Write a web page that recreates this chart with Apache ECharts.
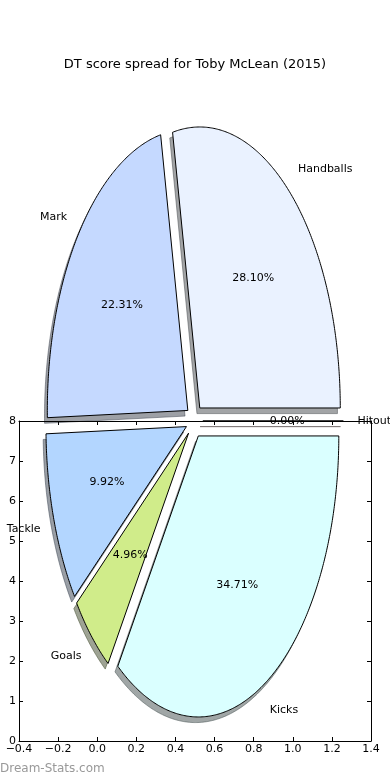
<!DOCTYPE html>
<html><head><meta charset="utf-8">
<script src="https://cdn.jsdelivr.net/npm/echarts/dist/echarts.min.js"></script>
<style>html,body{margin:0;padding:0;background:#fff}#c{width:390px;height:780px}</style>
</head><body><div id="c"></div>
<script>
// ---- data ----
const categories = ['Handballs', 'Mark', 'Tackle', 'Goals', 'Kicks', 'Hitout'];
const shares = [28.10, 22.31, 9.92, 4.96, 34.71, 0.00];
const sliceColors = ['#eaf2ff', '#c5d9ff', '#b3d6ff', '#d0ec8a', '#daffff', '#ffe4e4'];
const xTickLabels = ['\u22120.4', '\u22120.2', '0.0', '0.2', '0.4', '0.6', '0.8', '1.0', '1.2', '1.4'];
const yTickLabels = ['0', '1', '2', '3', '4', '5', '6', '7', '8'];

// ---- pie geometry (in axis data units) ----
const pieCenter = [0.497, 8];
const pieRadius = [0.7185, 7.025];
const explode = 0.06;
const shadowOffset = 0.02;
const labelDistance = 1.1;
const pctDistance = 0.6;
const FONT = '"DejaVu Sans", sans-serif';

const total = shares.reduce((a, b) => a + b, 0);
const starts = [];
let acc = 0;
shares.forEach(v => { starts.push(acc); acc += v / total * 360; });

function shade(hex) {
  const n = parseInt(hex.slice(1), 16);
  const r = Math.round(((n >> 16) & 255) * 0.3), g = Math.round(((n >> 8) & 255) * 0.3), b = Math.round((n & 255) * 0.3);
  return 'rgb(' + r + ',' + g + ',' + b + ')';
}

function geom(i, api) {
  const c = api.coord(pieCenter);
  const s = api.size([pieRadius[0], pieRadius[1]]);
  const rx = s[0], ry = s[1];
  const t1 = starts[i], t2 = starts[i] + shares[i] / total * 360;
  const mid = (t1 + t2) / 2 * Math.PI / 180;
  const ax = c[0] + explode * rx * Math.cos(mid);
  const ay = c[1] - explode * ry * Math.sin(mid);
  const pts = [[ax, ay]];
  const steps = Math.max(1, Math.ceil((t2 - t1) / 0.5));
  for (let k = 0; k <= steps; k++) {
    const t = (t1 + (t2 - t1) * k / steps) * Math.PI / 180;
    pts.push([ax + rx * Math.cos(t), ay - ry * Math.sin(t)]);
  }
  return { pts, ax, ay, rx, ry, mid };
}

const seriesData = categories.map((name, i) => ({ name, value: [pieCenter[0], pieCenter[1], shares[i]] }));

const chart = echarts.init(document.getElementById('c'), null, { renderer: 'canvas' });
const axisCommon = {
  type: 'value', z: 5,
  axisLine: { show: true, onZero: false, lineStyle: { color: '#000', width: 1 } },
  axisTick: { show: true, inside: true, length: 4, lineStyle: { color: '#000', width: 1 } },
  splitLine: { show: false }
};
chart.setOption({
  animation: false,
  backgroundColor: '#fff',
  title: {
    text: 'DT score spread for Toby McLean (2015)', left: 'center', top: 53,
    textStyle: { fontFamily: FONT, fontSize: 13, fontWeight: 'normal', color: '#000' }
  },
  grid: { left: 19, right: 19, top: 421, bottom: 39, containLabel: false },
  xAxis: [
    Object.assign({}, axisCommon, {
      position: 'bottom', min: -0.4, max: 1.4, interval: 0.2,
      axisLabel: { show: true, margin: 3, color: '#000', fontFamily: FONT, fontSize: 11,
        formatter: (v, idx) => xTickLabels[idx] }
    }),
    Object.assign({}, axisCommon, {
      position: 'top', min: -0.4, max: 1.4, interval: 0.2, axisLabel: { show: false }
    })
  ],
  yAxis: [
    Object.assign({}, axisCommon, {
      position: 'left', min: 0, max: 8, interval: 1,
      axisLabel: { show: true, margin: 3, color: '#000', fontFamily: FONT, fontSize: 11,
        formatter: (v, idx) => yTickLabels[idx] }
    }),
    Object.assign({}, axisCommon, {
      position: 'right', min: 0, max: 8, interval: 1, axisLabel: { show: false }
    })
  ],
  graphic: [{
    type: 'text', left: 0, top: 763,
    style: { text: 'Dream-Stats.com', fill: '#999', font: '12px ' + FONT }
  }],
  series: [
    {
      type: 'custom', name: 'shadow', coordinateSystem: 'cartesian2d', xAxisIndex: 0, yAxisIndex: 0,
      clip: false, z: 1, silent: true,
      data: seriesData,
      renderItem: function (params, api) {
        const i = params.dataIndex;
        const g = geom(i, api);
        const dx = -shadowOffset * g.rx, dy = shadowOffset * g.ry;
        const col = shade(sliceColors[i]);
        return {
          type: 'polygon',
          shape: { points: g.pts.map(p => [p[0] + dx, p[1] + dy]) },
          style: { fill: col, stroke: col, lineWidth: 1, opacity: 0.5 }
        };
      }
    },
    {
      type: 'custom', name: 'slices', coordinateSystem: 'cartesian2d', xAxisIndex: 0, yAxisIndex: 0,
      clip: false, z: 2, silent: true,
      data: seriesData,
      renderItem: function (params, api) {
        const i = params.dataIndex;
        const g = geom(i, api);
        const zeroX = api.coord([0, 0])[0];
        const lx = g.ax + labelDistance * g.rx * Math.cos(g.mid);
        const ly = g.ay - labelDistance * g.ry * Math.sin(g.mid);
        const px = g.ax + pctDistance * g.rx * Math.cos(g.mid);
        const py = g.ay - pctDistance * g.ry * Math.sin(g.mid);
        return {
          type: 'group',
          children: [
            {
              type: 'polygon', shape: { points: g.pts },
              style: { fill: sliceColors[i], stroke: '#000', lineWidth: 1, lineJoin: 'miter' }
            },
            {
              type: 'text', z2: 10,
              style: { x: lx, y: ly, text: categories[i], fill: '#000', font: '11px ' + FONT,
                align: lx > zeroX ? 'left' : 'right', verticalAlign: 'middle' }
            },
            {
              type: 'text', z2: 10,
              style: { x: px, y: py, text: shares[i].toFixed(2) + '%', fill: '#000', font: '11px ' + FONT,
                align: 'center', verticalAlign: 'middle' }
            }
          ]
        };
      }
    }
  ]
});
</script>
</body></html>
